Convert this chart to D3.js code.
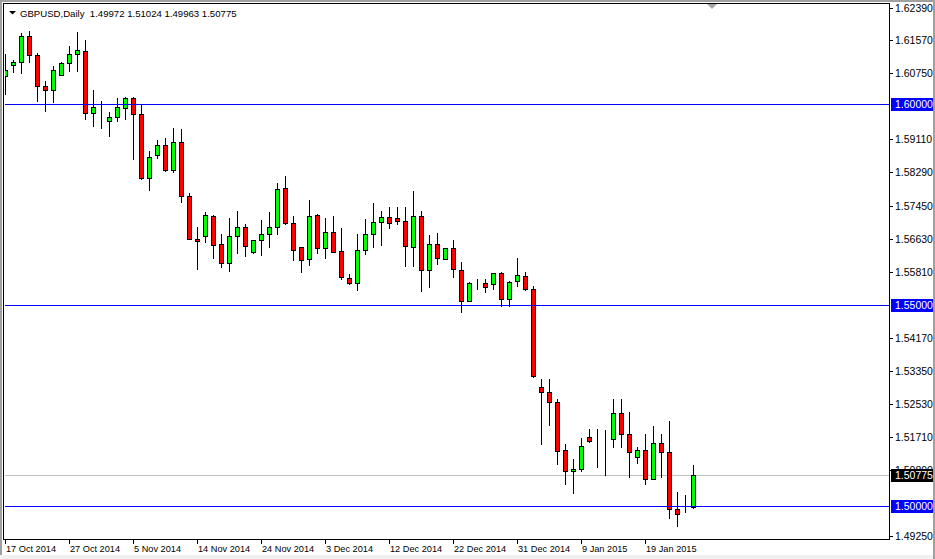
<!DOCTYPE html>
<html>
<head>
<meta charset="utf-8">
<script src="https://cdn.jsdelivr.net/npm/d3@7/dist/d3.min.js"></script>
<style>
html,body{margin:0;padding:0;background:#fff;}
svg{display:block;}
text{font-family:"Liberation Sans",Arial,sans-serif;font-size:10.5px;}
.date{font-size:9.2px;}
</style>
</head>
<body>
<svg id="chart" width="935" height="559"></svg>
<script>
// ---- data ----
const dateLabels = ["17 Oct 2014","27 Oct 2014","5 Nov 2014","14 Nov 2014","24 Nov 2014","3 Dec 2014","12 Dec 2014","22 Dec 2014","31 Dec 2014","9 Jan 2015","19 Jan 2015"];
const dateLabelBars = [0,8,16,24,32,40,48,56,64,72,80];
const priceTicks = [1.62390,1.61570,1.60750,1.59110,1.58290,1.57450,1.56630,1.55810,1.54170,1.53350,1.52530,1.51710,1.50890,1.49250];
const levelLines = [1.60000,1.55000,1.50000];
const bidPrice = 1.50775;
const header = "GBPUSD,Daily  1.49972 1.51024 1.49963 1.50775";
const opens  = [1.60687,1.60960,1.61035,1.61680,1.61208,1.60439,1.60340,1.60712,1.61000,1.61233,
                1.61308,1.59769,1.59893,1.59571,1.59670,1.59893,1.60141,1.59744,1.58156,1.58727,
                1.58975,1.58355,1.59050,1.57710,1.56643,1.56717,1.57213,1.56519,1.56047,1.56717,
                1.56940,1.56320,1.56618,1.56767,1.56940,1.57908,1.57040,1.56444,1.56146,1.57238,
                1.56419,1.56816,1.56345,1.55675,1.55551,1.56370,1.56767,1.57065,1.57189,1.57164,
                1.57089,1.56444,1.57213,1.55873,1.56519,1.56146,1.56419,1.55873,1.55104,1.55551,
                1.55551,1.55526,1.55799,1.55154,1.55600,1.55724,1.55402,1.52970,1.52846,1.52573,
                1.51382,1.50861,1.50911,1.51705,1.51630,1.51645,1.51655,1.52300,1.51779,1.51208,
                1.51382,1.50677,1.51556,1.51333,1.49918,1.49957,1.49972];
const highs  = [1.61233,1.61092,1.61754,1.61811,1.61258,1.60563,1.60935,1.61035,1.61439,1.61779,
                1.61588,1.60340,1.60067,1.59794,1.60141,1.60166,1.60166,1.59993,1.58826,1.59099,
                1.59149,1.59397,1.59372,1.57784,1.56940,1.57313,1.57238,1.56767,1.57164,1.57337,
                1.57005,1.56618,1.57114,1.57313,1.58032,1.58206,1.57213,1.56444,1.57610,1.57263,
                1.57164,1.57213,1.56916,1.55774,1.56767,1.57139,1.57536,1.57337,1.57437,1.57437,
                1.57437,1.57834,1.57337,1.56742,1.56792,1.56419,1.56618,1.56072,1.55576,1.55650,
                1.55650,1.55799,1.55824,1.55600,1.56171,1.55824,1.55476,1.53169,1.53169,1.52672,
                1.51531,1.51159,1.51680,1.51903,1.51903,1.51878,1.52672,1.52648,1.52325,1.51457,
                1.51779,1.51978,1.51779,1.52102,1.50340,1.50266,1.51024];
const lows   = [1.60241,1.60777,1.60752,1.61025,1.60057,1.59809,1.60032,1.60712,1.60819,1.60819,
                1.59610,1.59437,1.59387,1.59189,1.59571,1.59610,1.58628,1.58131,1.57859,1.58653,
                1.58330,1.58305,1.57561,1.56630,1.55898,1.56568,1.56171,1.55948,1.55849,1.56295,
                1.56221,1.56295,1.56246,1.56444,1.56767,1.57015,1.56122,1.55824,1.55998,1.56295,
                1.56171,1.56310,1.55650,1.55526,1.55377,1.56270,1.56444,1.56494,1.56916,1.57015,
                1.55973,1.55963,1.55352,1.55452,1.56022,1.56146,1.55690,1.54831,1.55104,1.55402,
                1.55328,1.55402,1.54980,1.54980,1.55476,1.55377,1.53208,1.51531,1.52002,1.51035,
                1.50538,1.50315,1.50861,1.51581,1.50960,1.50762,1.51457,1.51471,1.50727,1.51059,
                1.50538,1.50663,1.50712,1.49695,1.49496,1.49844,1.49963];
const closes = [1.60836,1.61035,1.61680,1.61216,1.60439,1.60340,1.60836,1.61010,1.61233,1.61333,
                1.59769,1.59918,1.59895,1.59670,1.59918,1.60141,1.59744,1.58156,1.58677,1.58975,
                1.58355,1.59050,1.57710,1.56643,1.56593,1.57238,1.56494,1.56047,1.56717,1.56940,
                1.56469,1.56618,1.56767,1.56940,1.57883,1.57040,1.56370,1.56122,1.57213,1.56419,
                1.56816,1.56320,1.55700,1.55551,1.56370,1.56767,1.57065,1.57189,1.57040,1.57089,
                1.56469,1.57213,1.55873,1.56519,1.56171,1.56419,1.55898,1.55104,1.55551,1.55553,
                1.55452,1.55799,1.55154,1.55576,1.55749,1.55402,1.53233,1.52846,1.52573,1.51357,
                1.50861,1.50911,1.51481,1.51605,1.51632,1.51648,1.52300,1.51779,1.51333,1.51382,
                1.50663,1.51556,1.51333,1.49918,1.49794,1.49960,1.50775];

const candles = opens.map((o,i)=>({i, o, h:highs[i], l:lows[i], c:closes[i]}));

// ---- layout ----
const W = 935, H = 559;
const plot = {left:4, top:4, right:889, bottom:539};
const svg = d3.select("#chart");

// outer frame
svg.append("rect").attr("x",0).attr("y",0).attr("width",W).attr("height",H).attr("fill","#ffffff");
svg.append("rect").attr("x",0).attr("y",0).attr("width",W).attr("height",2).attr("fill","#a0a0a0");
svg.append("rect").attr("x",0).attr("y",0).attr("width",2).attr("height",H).attr("fill","#a0a0a0");
svg.append("rect").attr("x",0).attr("y",555).attr("width",W).attr("height",4).attr("fill","#f0f0f0");
svg.append("rect").attr("x",933).attr("y",0).attr("width",2).attr("height",H).attr("fill","#a0a0a0");

const y = d3.scaleLinear().domain([1.49250, 1.62390]).range([536.2, 7.5]);
const x = d3.scaleLinear().domain([0, 86]).range([5, 693]);
const px = v => Math.round(v) + 0.5;

svg.append("clipPath").attr("id", "plotclip").append("rect")
  .attr("x", plot.left+1).attr("y", plot.top+1)
  .attr("width", plot.right-plot.left-1).attr("height", plot.bottom-plot.top-1);

const g = svg.append("g").attr("clip-path", "url(#plotclip)").attr("shape-rendering","crispEdges");

// bid line (behind candles)
g.append("rect").attr("x",plot.left).attr("width",plot.right-plot.left)
  .attr("y",Math.round(y(bidPrice))).attr("height",1)
  .attr("fill","#c0c0c0");

// wicks
g.selectAll("line.wick").data(candles).join("line").attr("class","wick")
  .attr("x1",d=>px(x(d.i))).attr("x2",d=>px(x(d.i)))
  .attr("y1",d=>Math.round(y(d.h))).attr("y2",d=>Math.round(y(d.l))+1)
  .attr("stroke","#000").attr("stroke-width",1);

// bodies
g.selectAll("rect.body").data(candles).join("rect").attr("class","body")
  .attr("x",d=>Math.round(x(d.i))-1.5)
  .attr("width",4)
  .attr("y",d=>Math.round(y(Math.max(d.o,d.c)))+0.5)
  .attr("height",d=>Math.max(0, Math.round(y(Math.min(d.o,d.c))) - Math.round(y(Math.max(d.o,d.c)))))
  .attr("fill",d=>d.c>=d.o ? "#00ff00" : "#ff0000")
  .attr("stroke","#000").attr("stroke-width",1);

// plot border
svg.append("rect").attr("x",plot.left-0.5).attr("y",plot.top-0.5)
  .attr("width",plot.right-plot.left+1).attr("height",plot.bottom-plot.top+1)
  .attr("fill","none").attr("stroke","#000").attr("stroke-width",1).attr("shape-rendering","crispEdges");

// level lines (on top of candles)
svg.append("g").selectAll("rect").data(levelLines).join("rect")
  .attr("x",plot.left+1).attr("width",plot.right-plot.left-1)
  .attr("y",d=>Math.round(y(d))).attr("height",1)
  .attr("fill","#0000ff").attr("shape-rendering","crispEdges");

// chart shift marker
svg.append("path").attr("d","M707,4 L717,4 L712,9 Z").attr("fill","#a8a8a8");

// price axis
const yAxis = svg.append("g");
yAxis.selectAll("line").data(priceTicks).join("line")
  .attr("x1",plot.right+1).attr("x2",plot.right+4)
  .attr("y1",d=>px(y(d))).attr("y2",d=>px(y(d)))
  .attr("stroke","#000").attr("shape-rendering","crispEdges");
yAxis.selectAll("text").data(priceTicks).join("text")
  .attr("x",895).attr("y",d=>Math.round(y(d))+4)
  .attr("fill","#000").text(d=>d.toFixed(5));

// level labels
const labels = levelLines.map(v=>({v, bg:"#0000ff"})).concat([{v:bidPrice, bg:"#000000"}]);
const lab = svg.selectAll("g.lab").data(labels).join("g").attr("class","lab");
lab.append("rect").attr("x",891).attr("y",d=>Math.round(y(d.v))-6)
  .attr("width",42).attr("height",13).attr("fill",d=>d.bg).attr("shape-rendering","crispEdges");
lab.append("text").attr("x",895).attr("y",d=>Math.round(y(d.v))+4)
  .attr("fill","#fff").text(d=>d.v.toFixed(5));

// date axis
const xAxis = svg.append("g");
xAxis.selectAll("line").data(dateLabelBars).join("line")
  .attr("x1",d=>px(x(d))).attr("x2",d=>px(x(d)))
  .attr("y1",plot.bottom+1).attr("y2",plot.bottom+5)
  .attr("stroke","#000").attr("shape-rendering","crispEdges");
xAxis.selectAll("text").data(dateLabelBars).join("text").attr("class","date")
  .attr("x",d=>Math.round(x(d))+1).attr("y",552)
  .attr("fill","#000").text((d,k)=>dateLabels[k]);

// header
svg.append("path").attr("d","M9,11 L16,11 L12.5,14.5 Z").attr("fill","#000");
svg.append("text").attr("x",20).attr("y",17).attr("fill","#000").style("font-size","9.6px")
  .attr("xml:space","preserve").style("white-space","pre").text(header);
</script>
</body>
</html>
